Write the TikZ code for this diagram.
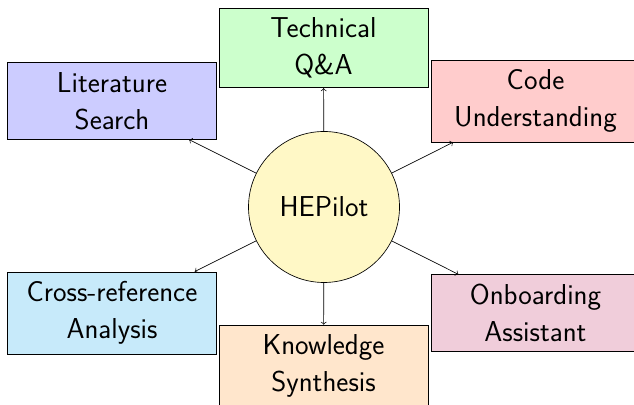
\documentclass[tikz,border=0pt]{standalone}
\definecolor{hubfill}{RGB}{255,248,198}
\definecolor{crossfill}{RGB}{199,234,250}
\definecolor{onbfill}{RGB}{240,205,218}
\definecolor{knowfill}{RGB}{255,230,204}
\begin{document}
\begin{tikzpicture}[x=0.6pt,y=-0.6pt,
  feature/.style={draw=black, rectangle, font=\LARGE\sffamily, align=center, text width=4cm, inner sep=5.8pt},
  hub/.style={draw=black, circle, fill=hubfill, font=\LARGE\sffamily, minimum size=90.6pt, inner sep=0pt},
  link/.style={->}]
\useasboundingbox (0,0) rectangle (634,405);
\clip (0,0) rectangle (634,405);
\node[hub] (c) at (324,207) {HEPilot};
\node[feature, fill=green!20] (tq) at (323.5,48) {Technical\\Q\&A};
\node[feature, fill=blue!20] (ls) at (112,101) {Literature\\Search};
\node[feature, fill=red!20] (cu) at (535.5,101) {Code\\Understanding};
\node[feature, fill=crossfill] (cr) at (112,313) {Cross-reference\\Analysis};
\node[feature, fill=onbfill] (oa) at (535.5,313) {Onboarding\\Assistant};
\node[feature, fill=knowfill] (ks) at (323.5,366) {Knowledge\\Synthesis};
\draw[link] (c) -- (tq);
\draw[link] (c) -- (ls);
\draw[link] (c) -- (cu);
\draw[link] (c) -- (cr);
\draw[link] (c) -- (oa);
\draw[link] (c) -- (ks);
\end{tikzpicture}
\end{document}
